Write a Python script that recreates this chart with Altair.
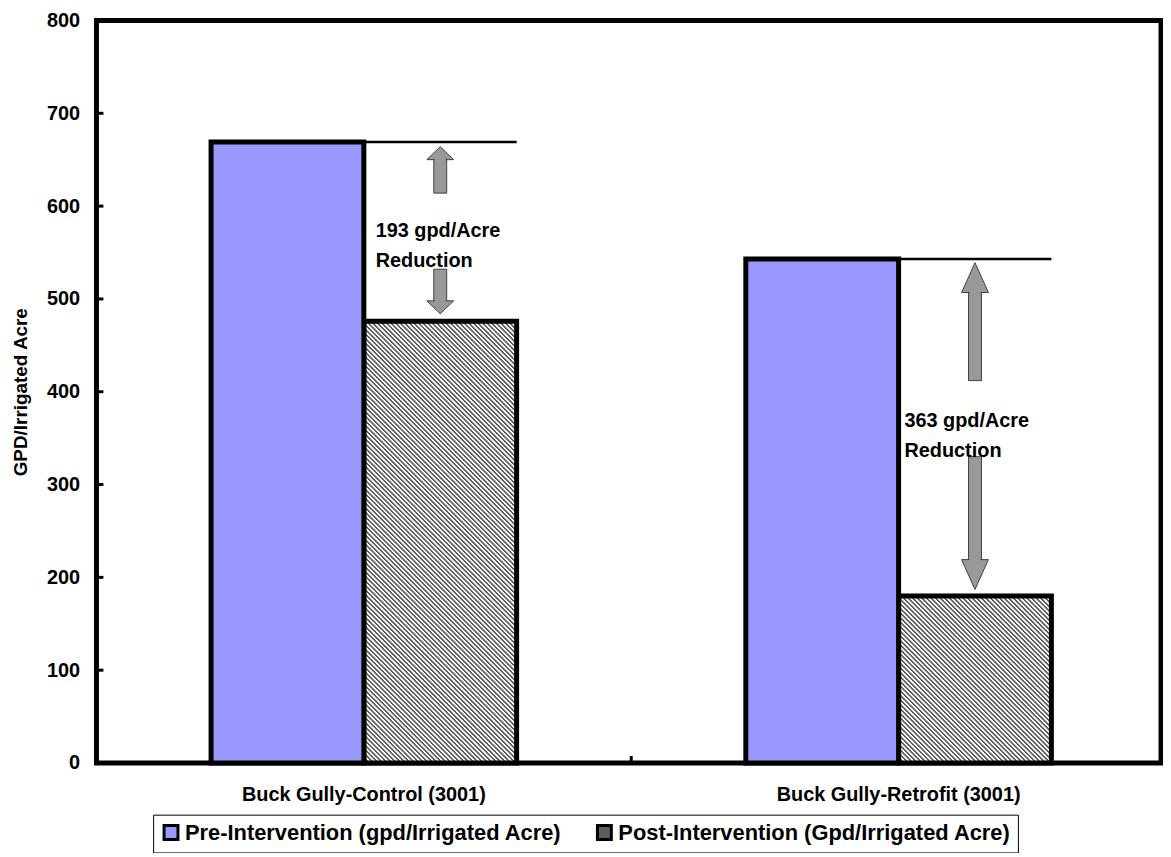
import altair as alt
import pandas as pd

# ---------------- data ----------------
categories = ["Buck Gully-Control (3001)", "Buck Gully-Retrofit (3001)"]
series = ["Pre-Intervention (gpd/Irrigated Acre)", "Post-Intervention (Gpd/Irrigated Acre)"]
pre_values = [669, 543]
post_values = [476, 180]

arrow_up_tip = [664, 539]
arrow_up_tail = [614, 412]
arrow_down_tail = [532, 330]
arrow_down_tip = [484, 187]

reduction_labels = ["193 gpd/Acre\nReduction", "363 gpd/Acre\nReduction"]
reduction_label_y = [573, 368]

y_ticks = [0, 100, 200, 300, 400, 500, 600, 700, 800]

# ---------------- layout / style ----------------
W, H = 1071, 747
X_RANGE = 1076
Y_MAX = 800
PX = H / Y_MAX
FONT = "Liberation Sans, Arial, sans-serif"
PRE_COLOR = "#9999FF"
ARROW_FILL = "#999999"
ARROW_STROKE = "#404040"
HEAD_PX = [13, 30]          # arrow head length (px) per category
HEAD_SIZE = 729             # symbol size -> head width ~27px
SHAFT_W = 13
ARROW_SHIFT = [-3, -11]     # px shift of arrows from the post-bar centre
TEXT_SHIFT = [-65, -71]     # px shift of left-aligned labels from post-bar centre
TICK_LEN = 7

BAR_W = (X_RANGE / len(categories)) / (len(series) + 2 * 0.75)


def hatch(w, h, period=4.6, dark="#5c5c5c", light="#ffffff"):
    denom = w * w + h * h
    dt = period * w / denom
    tmax = (w + h) * w / denom
    stops = []
    k = 0
    while k * dt <= min(1.0, tmax + dt):
        for frac, col in ((0.0, dark), (0.32, dark), (0.5, light), (0.85, light)):
            off = (k + frac) * dt
            if off <= 1.0:
                stops.append({"offset": round(off, 6), "color": col})
        k += 1
    return {"gradient": "linear", "x1": 0, "y1": 1, "x2": 1, "y2": 1 - h / w,
            "stops": stops}


x_scale = alt.Scale(domain=categories, range=[0, X_RANGE], paddingInner=0, paddingOuter=0)
x_axis = alt.Axis(title=None, labelAngle=0, ticks=False, domain=False,
                  labelFontSize=20, labelFontWeight="bold", labelFont=FONT,
                  labelColor="black", labelPadding=22, labelLimit=1000)
x_enc = alt.X("cat:N", scale=x_scale, axis=x_axis)
xoff_enc = alt.XOffset("series:N",
                       scale=alt.Scale(domain=series, paddingInner=0, paddingOuter=0.75))
y_scale = alt.Scale(domain=[0, Y_MAX], nice=False, zero=True)
y_axis = alt.Axis(title="GPD/Irrigated Acre", values=y_ticks, grid=False, ticks=False,
                  domain=False, labelFontSize=20, labelFontWeight="bold", labelFont=FONT,
                  labelColor="black", labelPadding=17, titleFont=FONT, titleFontSize=19,
                  titleFontWeight="bold", titleColor="black", titlePadding=16)

layers = []

# post bars, hatched
for i, c in enumerate(categories):
    dfi = pd.DataFrame({"cat": [c], "series": [series[1]], "value": [post_values[i]]})
    grad = hatch(BAR_W, post_values[i] * PX)
    layers.append(
        alt.Chart(dfi).mark_bar(fill=grad, stroke="black", strokeWidth=5).encode(
            x=x_enc, xOffset=xoff_enc,
            y=alt.Y("value:Q", scale=y_scale, axis=y_axis))
    )

# pre bars (carry the legend)
pre_df = pd.DataFrame({"cat": categories, "series": series[0], "value": pre_values})
layers.append(
    alt.Chart(pre_df).mark_bar(stroke="black", strokeWidth=5, opacity=1).encode(
        x=x_enc, xOffset=xoff_enc,
        y=alt.Y("value:Q", scale=y_scale, axis=y_axis),
        color=alt.Color("series:N",
                        scale=alt.Scale(domain=series, range=[PRE_COLOR, "#5e5e5e"]),
                        legend=alt.Legend(
                            title=None, orient="none", legendX=57, legendY=799,
                            direction="horizontal", strokeColor="black", fillColor="white",
                            padding=7, symbolType="square", symbolSize=196,
                            symbolStrokeColor="black", symbolStrokeWidth=3,
                            symbolOpacity=1, labelFont=FONT, labelFontSize=22,
                            labelFontWeight="bold", labelColor="black", labelLimit=1000,
                            columnPadding=30, labelOffset=3)))
)

# reference lines at pre level spanning the post bar
line_df = pd.DataFrame({"cat": categories, "series": series[1], "value": pre_values})
layers.append(
    alt.Chart(line_df).mark_bar(fill="transparent", stroke="black", strokeWidth=2.5).encode(
        x=x_enc, xOffset=xoff_enc,
        y=alt.Y("value:Q", scale=y_scale, axis=y_axis), y2="value:Q")
)

# inward y ticks
ytick_df = pd.DataFrame({"v": y_ticks[1:-1]})
layers.append(
    alt.Chart(ytick_df).mark_rule(color="black", strokeWidth=3).encode(
        y=alt.Y("v:Q", scale=y_scale, axis=y_axis),
        x=alt.value(0), x2=alt.value(TICK_LEN))
)
# inward x tick at the category boundary
xtick_df = pd.DataFrame({"cat": categories[:1]})
layers.append(
    alt.Chart(xtick_df).mark_rule(color="black", strokeWidth=3).encode(
        x=alt.X("cat:N", scale=x_scale, axis=x_axis, bandPosition=1),
        y=alt.value(H), y2=alt.value(H - TICK_LEN))
)

# arrows (one set of layers per category so each can be nudged)
for i, c in enumerate(categories):
    hv = HEAD_PX[i] / PX
    adf = pd.DataFrame([
        {"cat": c, "series": series[1], "kind": "up",
         "tip": arrow_up_tip[i], "tail": arrow_up_tail[i], "base": arrow_up_tip[i] - hv},
        {"cat": c, "series": series[1], "kind": "down",
         "tip": arrow_down_tip[i], "tail": arrow_down_tail[i], "base": arrow_down_tip[i] + hv},
    ])
    adf["c1"] = adf["base"] - 2 / PX
    adf["c2"] = adf["base"] + 2 / PX
    u = HEAD_PX[i] / (HEAD_SIZE ** 0.5 / 2)
    paths = [f"M0,0L1,{u:.3f}L-1,{u:.3f}Z", f"M0,0L1,{-u:.3f}L-1,{-u:.3f}Z"]
    sh = ARROW_SHIFT[i]
    layers.append(
        alt.Chart(adf).mark_bar(width=SHAFT_W, fill=ARROW_FILL, stroke=ARROW_STROKE,
                                strokeWidth=1, xOffset=sh).encode(
            x=x_enc, xOffset=xoff_enc,
            y=alt.Y("tail:Q", scale=y_scale, axis=y_axis), y2="base:Q")
    )
    layers.append(
        alt.Chart(adf).mark_point(filled=True, size=HEAD_SIZE, fill=ARROW_FILL,
                                  stroke=ARROW_STROKE, strokeWidth=1, opacity=1,
                                  xOffset=sh).encode(
            x=x_enc, xOffset=xoff_enc,
            y=alt.Y("tip:Q", scale=y_scale, axis=y_axis),
            shape=alt.Shape("kind:N", scale=alt.Scale(domain=["up", "down"], range=paths),
                            legend=None))
    )
    layers.append(
        alt.Chart(adf).mark_bar(width=SHAFT_W - 2, fill=ARROW_FILL, xOffset=sh).encode(
            x=x_enc, xOffset=xoff_enc,
            y=alt.Y("c1:Q", scale=y_scale, axis=y_axis), y2="c2:Q")
    )
    tdf = pd.DataFrame({"cat": [c], "series": [series[1]],
                        "label": [reduction_labels[i]], "y": [reduction_label_y[i]]})
    layers.append(
        alt.Chart(tdf).mark_text(font=FONT, fontSize=20, fontWeight="bold", color="black",
                                 align="left", baseline="middle", dx=TEXT_SHIFT[i],
                                 lineBreak="\n", lineHeight=30).encode(
            x=x_enc, xOffset=xoff_enc,
            y=alt.Y("y:Q", scale=y_scale, axis=y_axis),
            text="label:N")
    )

chart = alt.layer(*layers).resolve_scale(shape="independent").properties(
    width=W, height=H,
    padding={"left": 89, "top": 10, "right": 2, "bottom": 88},
    autosize=alt.AutoSizeParams(type="none"),
    background="white",
).configure_view(stroke="black", strokeWidth=5)

chart.save("out.html", embed_options={"renderer": "svg", "actions": False})
